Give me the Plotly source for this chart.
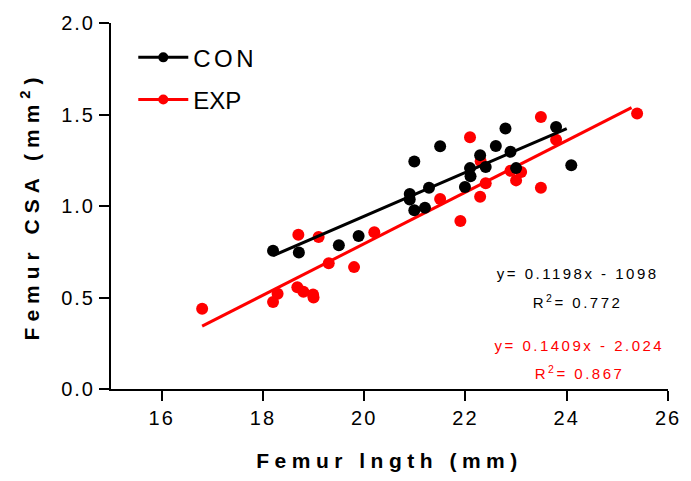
import plotly.graph_objects as go

# CON (black) group
con_x = [18.20, 18.71, 19.50, 19.89, 20.90, 20.90, 20.99, 20.99, 21.20, 21.28, 21.50,
         21.99, 22.09, 22.10, 22.29, 22.40, 22.60, 22.79, 22.89, 23.00, 23.79, 24.09]
con_y = [0.755, 0.746, 0.785, 0.836, 1.065, 1.035, 1.243, 0.977, 0.990, 1.100, 1.326,
         1.104, 1.207, 1.163, 1.278, 1.213, 1.328, 1.424, 1.296, 1.207, 1.432, 1.223]

# EXP (red) group
exp_x = [16.80, 18.20, 18.29, 18.70, 18.68, 18.80, 18.99, 19.00, 19.10, 19.30, 19.80,
         20.20, 21.50, 21.90, 22.09, 22.29, 22.30, 22.40, 22.89, 23.00, 23.10, 23.49,
         23.49, 23.79, 25.39]
exp_y = [0.439, 0.476, 0.520, 0.843, 0.556, 0.532, 0.517, 0.500, 0.831, 0.687, 0.666,
         0.857, 1.038, 0.918, 1.376, 1.051, 1.245, 1.124, 1.193, 1.140, 1.186, 1.100,
         1.486, 1.362, 1.505]

# regression lines (slope, intercept, x-span)
con_fit = {"slope": 0.1198, "intercept": -1.452, "x": [18.2, 24.0]}
exp_fit = {"slope": 0.1409, "intercept": -2.024, "x": [16.8, 25.28]}

con_eq = ["y= 0.1198x - 1098", "R<sup>2</sup>= 0.772"]
exp_eq = ["y= 0.1409x - 2.024", "R<sup>2</sup>= 0.867"]

x_ticks = [16, 18, 20, 22, 24, 26]
y_ticks = [0.0, 0.5, 1.0, 1.5, 2.0]

BLACK = "#000000"
RED = "#ff0000"
FONT = "Arial, Liberation Sans, sans-serif"

fig = go.Figure()

def fit_y(fit):
    return [fit["slope"] * v + fit["intercept"] for v in fit["x"]]

fig.add_trace(go.Scatter(x=exp_x, y=exp_y, mode="markers",
                         marker=dict(color=RED, size=12), showlegend=False, cliponaxis=False))
fig.add_trace(go.Scatter(x=exp_fit["x"], y=fit_y(exp_fit), mode="lines",
                         line=dict(color=RED, width=3), showlegend=False))
fig.add_trace(go.Scatter(x=con_x, y=con_y, mode="markers",
                         marker=dict(color=BLACK, size=12), showlegend=False, cliponaxis=False))
fig.add_trace(go.Scatter(x=con_fit["x"], y=fit_y(con_fit), mode="lines",
                         line=dict(color=BLACK, width=3), showlegend=False))

# legend entries
fig.add_trace(go.Scatter(x=[None], y=[None], mode="lines+markers", name="CON",
                         line=dict(color=BLACK, width=3), marker=dict(color=BLACK, size=10),
                         legend="legend"))
fig.add_trace(go.Scatter(x=[None], y=[None], mode="lines+markers", name="EXP",
                         line=dict(color=RED, width=3), marker=dict(color=RED, size=10),
                         legend="legend2"))

ann = []
for i, t in enumerate(con_eq):
    ann.append(dict(x=24.21, y=[0.632, 0.478][i], xref="x", yref="y", text=t,
                    showarrow=False, font=dict(color=BLACK, size=15, family=FONT)))
for i, t in enumerate(exp_eq):
    ann.append(dict(x=24.25, y=[0.238, 0.089][i], xref="x", yref="y", text=t,
                    showarrow=False, font=dict(color=RED, size=15, family=FONT)))

axis_common = dict(showline=True, linecolor=BLACK, linewidth=2, ticks="outside",
                   ticklen=10, tickwidth=2, tickcolor=BLACK, showgrid=False, zeroline=False,
                   tickfont=dict(size=20, color=BLACK, family=FONT))

legend_common = dict(xanchor="left", yanchor="middle", bgcolor="rgba(0,0,0,0)",
                     itemwidth=50, font=dict(size=24, color=BLACK, family=FONT))

fig.update_layout(
    width=691, height=481,
    margin=dict(l=111, r=14, t=16, b=89),
    plot_bgcolor="white", paper_bgcolor="white",
    font=dict(family=FONT, color=BLACK),
    xaxis=dict(range=[15, 26], tickvals=x_ticks, ticktext=[str(v) for v in x_ticks],
               title=dict(text="<b>Femur lngth (mm)</b>", font=dict(size=21), standoff=25),
               **axis_common),
    yaxis=dict(range=[0, 2.0], tickvals=y_ticks, ticktext=[f"{v:.1f}" for v in y_ticks],
               title=dict(text="<b>Femur CSA (mm<sup>2</sup>)</b>", font=dict(size=21), standoff=22),
               **axis_common),
    legend=dict(x=0.04, y=0.905, **legend_common),
    legend2=dict(x=0.04, y=0.79, **legend_common),
    annotations=ann,
)

css = ("body{margin:0 !important;}"
       " .xtick text,.ytick text{letter-spacing:2px;}"
       " text.annotation-text{letter-spacing:2.5px;}"
       " text.legendtext{letter-spacing:3.5px;}"
       " text.xtitle{letter-spacing:5.5px;}"
       " text.ytitle{letter-spacing:6px;}")
post = ("var s=document.createElement('style');s.textContent=" + repr(css) +
        ";document.head.appendChild(s);")

fig.write_html("out.html", post_script=post, config={"displayModeBar": False})
